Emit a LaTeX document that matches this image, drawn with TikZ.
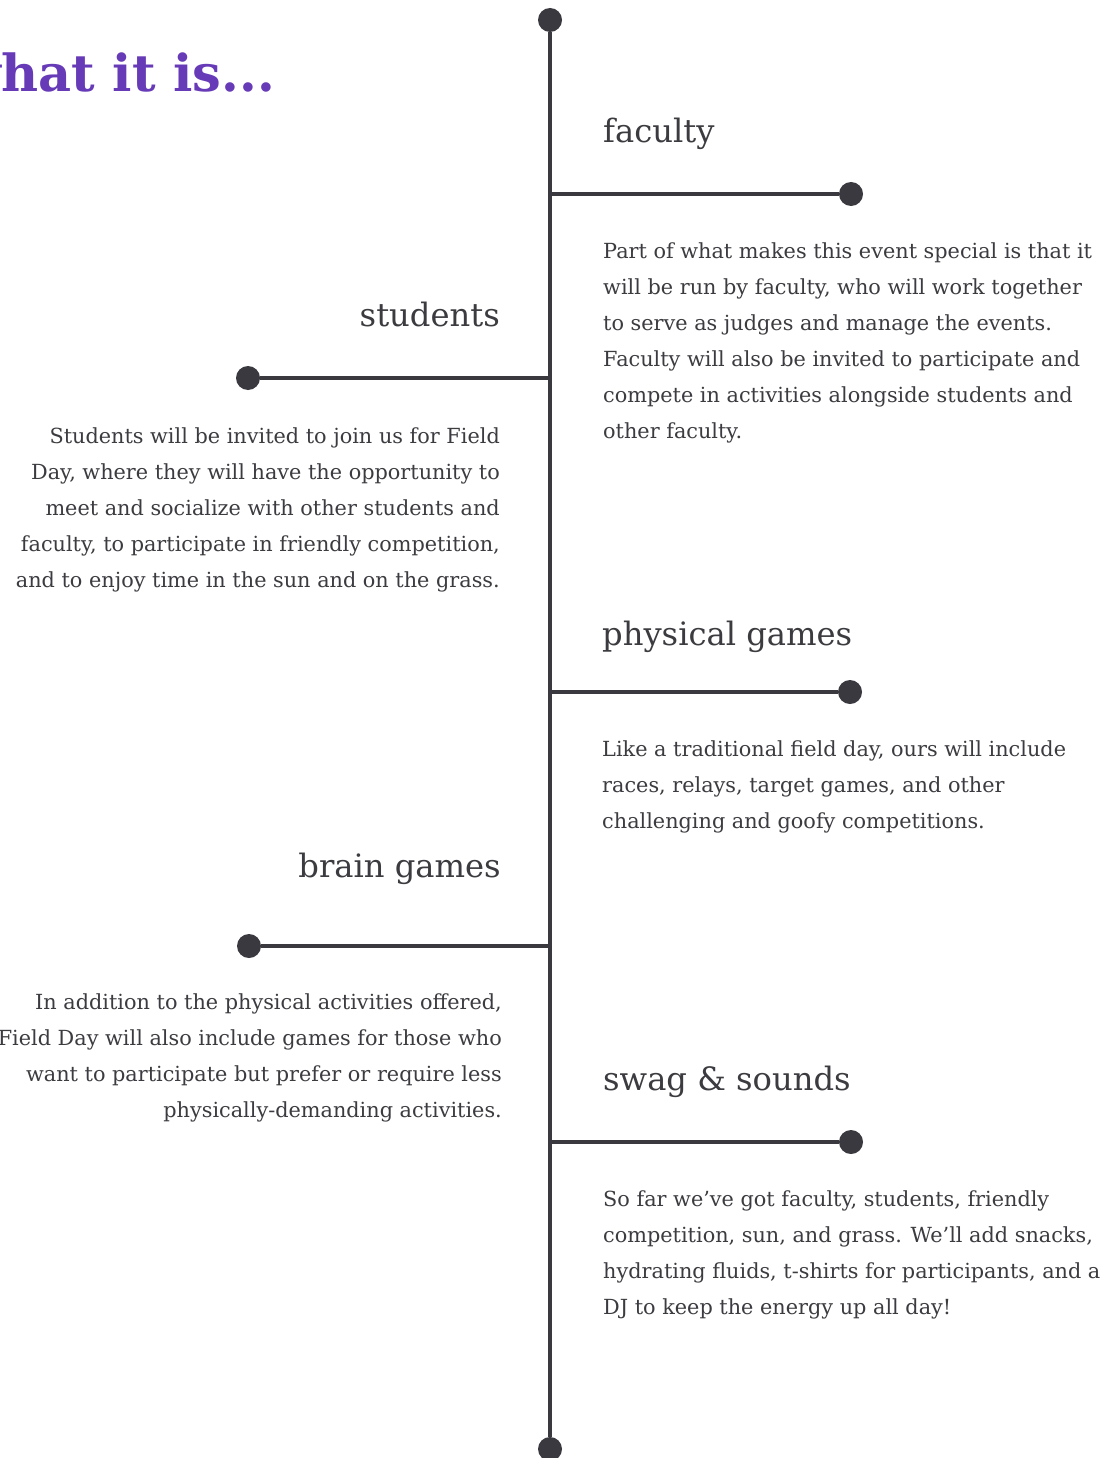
\documentclass[tikz,border=0pt]{standalone}
\usepackage{fontspec}
\setmainfont{DejaVu Serif}
\definecolor{ink}{HTML}{3A393F}
\definecolor{txt}{HTML}{3C3B40}
\definecolor{ttlc}{HTML}{673AB7}
\begin{document}
\begin{tikzpicture}[x=1pt,y=-1pt,
  dot/.style={circle,fill=ink,inner sep=0pt,minimum size=24pt},
  conn/.style={draw=ink,line width=4pt},
  head/.style={font=\fontsize{32.2}{38}\selectfont,text=txt,inner sep=0pt},
  bodyl/.style={font=\fontsize{20.8}{36}\selectfont,text=txt,inner sep=0pt,align=left,anchor=north west},
  bodyr/.style={font=\fontsize{20.8}{36}\selectfont,text=txt,inner sep=0pt,align=right,anchor=north east}]
\useasboundingbox (0,0) rectangle (1112,1458);
\clip (0,0) rectangle (1112,1458);
\fill[white] (0,0) rectangle (1112,1458);
% spine
\node[dot] (top) at (550,20) {};
\node[dot] (bot) at (550,1449) {};
\draw[conn] (top) -- (bot);
% title
\node[anchor=base east,inner sep=0pt,text=ttlc,font=\bfseries\fontsize{51}{60}\selectfont] (ttl) at (275,92) {what it is...};
% faculty
\coordinate (jf) at (550,194);
\node[dot] (df) at (851,194) {};
\draw[conn] (jf) -- (df);
\node[head,anchor=base west] (hf) at (603,143) {faculty};
\node[bodyl] (bf) at (603,242) {Part of what makes this event special is that it\\
will be run by faculty, who will work together\\
to serve as judges and manage the events.\\
Faculty will also be invited to participate and\\
compete in activities alongside students and\\
other faculty.};
% students
\coordinate (js) at (550,378);
\node[dot] (ds) at (248,378) {};
\draw[conn] (js) -- (ds);
\node[head,anchor=base east] (hs) at (500,326) {students};
\node[bodyr] (bs) at (500,427) {Students will be invited to join us for Field\\
Day, where they will have the opportunity to\\
meet and socialize with other students and\\
faculty, to participate in friendly competition,\\
and to enjoy time in the sun and on the grass.};
% physical games
\coordinate (jp) at (550,692);
\node[dot] (dp) at (850,692) {};
\draw[conn] (jp) -- (dp);
\node[head,anchor=base west] (hp) at (602,645) {physical games};
\node[bodyl] (bp) at (602,740) {Like a traditional field day, ours will include\\
races, relays, target games, and other\\
challenging and goofy competitions.};
% brain games
\coordinate (jb) at (550,946);
\node[dot] (db) at (249,946) {};
\draw[conn] (jb) -- (db);
\node[head,anchor=base east] (hb) at (501,877) {brain games};
\node[bodyr] (bb) at (502,993) {In addition to the physical activities offered,\\
Field Day will also include games for those who\\
want to participate but prefer or require less\\
physically-demanding activities.};
% swag & sounds
\coordinate (jw) at (550,1142);
\node[dot] (dw) at (851,1142) {};
\draw[conn] (jw) -- (dw);
\node[head,anchor=base west] (hw) at (603,1090) {swag \& sounds};
\node[bodyl] (bw) at (603,1190) {So far we’ve got faculty, students, friendly\\
competition, sun, and grass. We’ll add snacks,\\
hydrating fluids, t-shirts for participants, and a\\
DJ to keep the energy up all day!};
\end{tikzpicture}
\end{document}
